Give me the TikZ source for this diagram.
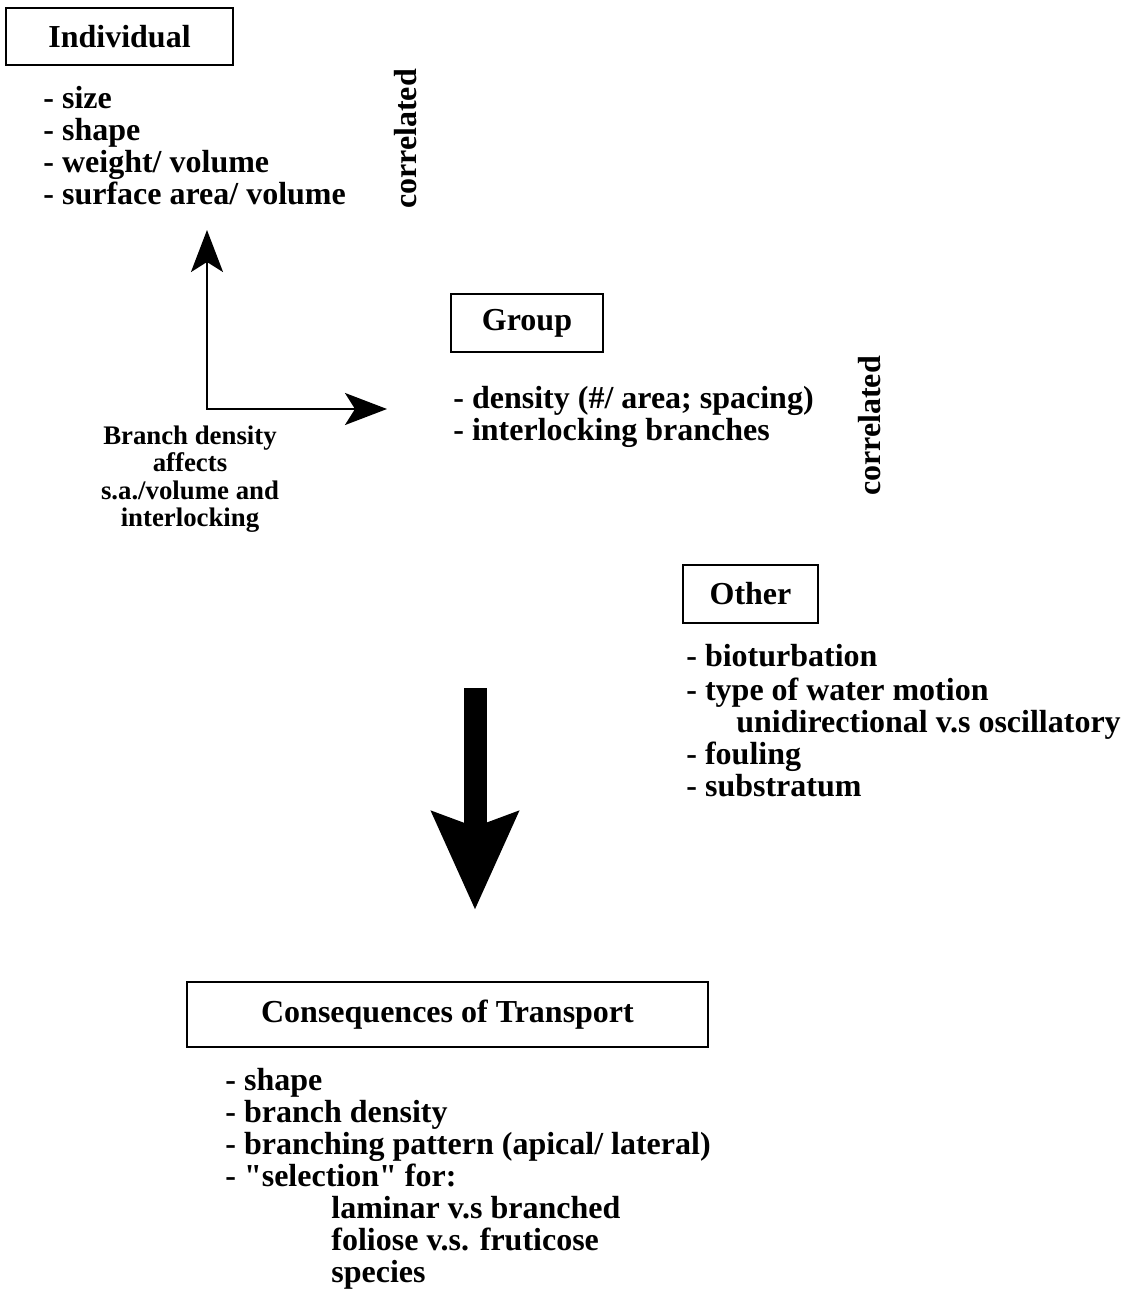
\documentclass[tikz,border=0pt]{standalone}
\usepackage{fontspec}
\setmainfont{Liberation Serif}
\usetikzlibrary{arrows.meta}

\begin{document}
\begin{tikzpicture}[x=0.5pt, y=-0.5pt,
  titlebox/.style={draw, line width=1.2pt, inner sep=0pt, font=\bfseries\fontsize{16}{16}\selectfont},
  itemlist/.style={anchor=north west, inner sep=0pt, align=left, font=\bfseries\fontsize{16}{16}\selectfont},
  sidenote/.style={rotate=90, inner sep=0pt, font=\bfseries\fontsize{16}{16}\selectfont},
  thinarrow/.style={line width=1.2pt, {Stealth[length=21pt, width=16pt, inset=5pt]}-{Stealth[length=21pt, width=16pt, inset=5pt]}},
  bigarrow/.style={line width=11.5pt, -{Stealth[length=48.5pt, width=42pt, inset=7pt]}}]
\useasboundingbox (0,0) rectangle (1138,1297);

\node[titlebox, minimum width=113.5pt, minimum height=28.5pt] (individual) at (119.5,36.5) {Individual};
\node[itemlist] (indlist) at (43,85.6) {\strut- size\\- shape\\- weight/ volume\\- surface area/ volume};
\node[sidenote] (corr1) at (406,139) {correlated};

\node[titlebox, minimum width=76pt, minimum height=29pt] (group) at (527,323) {Group};
\node[itemlist] (grouplist) at (453,385.6) {\strut- density (\#/ area; spacing)\\- interlocking branches};
\node[sidenote] (corr2) at (870,426) {correlated};

\node[titlebox, minimum width=67.5pt, minimum height=29pt] (other) at (750.5,594) {Other};
\node[itemlist] (otherlist) at (686,643.6) {\strut- bioturbation\\- type of water motion\\\hspace*{25pt}unidirectional v.s oscillatory\\- fouling\\- substratum};

\node[titlebox, minimum width=260.5pt, minimum height=32.5pt] (transport) at (447.5,1014.5) {Consequences of Transport};
\node[itemlist] (translist) at (225,1067.6) {\strut- shape\\- branch density\\- branching pattern (apical/ lateral)\\- \textquotedbl selection\textquotedbl\ for:\\\hspace*{53pt}laminar v.s branched\\\hspace*{53pt}foliose v.s. fruticose\\\hspace*{53pt}species};

\node[align=center, anchor=north, inner sep=0pt, font=\bfseries\fontsize{13.4}{13.7}\selectfont] (branchnote) at (190,424.8) {\strut Branch density\\affects\\s.a./volume and\\interlocking};

\coordinate (uptip) at (207,230);
\coordinate (corner) at (207,409);
\coordinate (righttip) at (387,409);
\draw[thinarrow] (uptip) -- (corner) -- (righttip);

\coordinate (bigtop) at (475,688);
\coordinate (bigtip) at (475,910);
\draw[bigarrow] (bigtop) -- (bigtip);
\end{tikzpicture}
\end{document}
